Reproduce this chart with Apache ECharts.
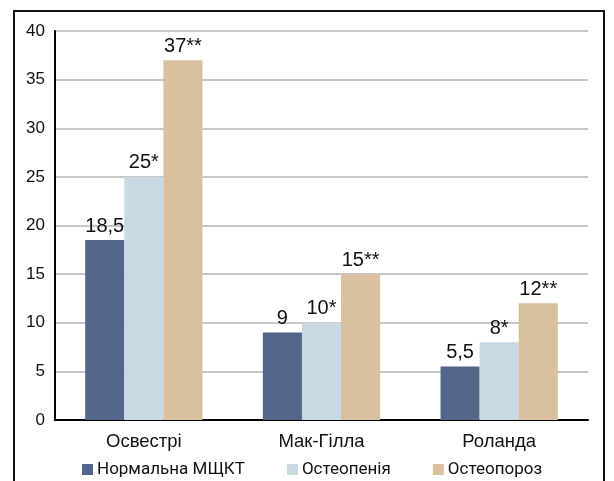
<!DOCTYPE html>
<html>
<head>
<meta charset="utf-8">
<script src="https://cdn.jsdelivr.net/npm/echarts@6/dist/echarts.min.js"></script>
<style>
  html, body { margin: 0; padding: 0; background: #fff; }
  #chart { width: 614px; height: 481px; }
</style>
</head>
<body>
<div id="chart"></div>
<script>
// Scoring methods (categories)
const categories = ['Освестрі', 'Мак-Гілла', 'Роланда'];

// Series names as shown in the legend
const seriesNames = ['Нормальна МЩКТ', 'Остеопенія', 'Остеопороз'];

// Values per group
const normalValues = [18.5, 9, 5.5];
const osteopeniaValues = [25, 10, 8];
const osteoporosisValues = [37, 15, 12];

// Significance marks appended to each series' value labels
const significanceMarks = ['', '*', '**'];

// Y axis ticks
const yMin = 0, yMax = 40, yStep = 5;

const colors = ['#536589', '#c9d9e3', '#d8c09f'];
const FONT = '"Liberation Sans", Arial, sans-serif';
const LEGEND_FONT = 'Roboto, "Liberation Sans", sans-serif';

const valueSets = [normalValues, osteopeniaValues, osteoporosisValues];

const chart = echarts.init(document.getElementById('chart'), null, { renderer: 'canvas' });

const series = valueSets.map((vals, i) => ({
  name: seriesNames[i],
  type: 'bar',
  data: vals,
  barGap: '0%',
  barCategoryGap: '34%',
  itemStyle: { color: colors[i] },
  label: {
    show: true,
    position: 'top',
    distance: 4,
    color: '#111',
    fontFamily: FONT,
    fontSize: 20,
    formatter: p => String(p.value).replace('.', ',') + significanceMarks[i]
  }
}));

chart.setOption({
  animation: false,
  backgroundColor: '#fff',
  textStyle: { fontFamily: FONT },
  grid: { left: 55, right: 26, top: 31, bottom: 61, containLabel: false },
  graphic: [{
    type: 'rect',
    shape: { x: 14, y: 11, width: 590, height: 490 },
    style: { fill: 'none', stroke: '#111', lineWidth: 2 },
    z: 100
  }],
  legend: {
    data: seriesNames,
    top: 461,
    left: 82,
    padding: 0,
    itemWidth: 11,
    itemHeight: 11,
    itemGap: 42,
    icon: 'rect',
    textStyle: { fontFamily: LEGEND_FONT, fontSize: 17, color: '#111', padding: [0, 0, 0, -1] }
  },
  xAxis: {
    type: 'category',
    data: categories,
    axisLine: { show: true, lineStyle: { color: '#000', width: 2 } },
    axisTick: { show: false },
    axisLabel: { color: '#111', fontFamily: FONT, fontSize: 18.5, margin: 12 }
  },
  yAxis: {
    type: 'value',
    min: yMin,
    max: yMax,
    interval: yStep,
    axisLine: { show: true, lineStyle: { color: '#000', width: 2 } },
    axisTick: { show: false },
    axisLabel: { color: '#111', fontFamily: FONT, fontSize: 17, margin: 10 },
    splitLine: { show: true, lineStyle: { color: '#b5b5b5', width: 1.5 } }
  },
  series: series
});
</script>
</body>
</html>
